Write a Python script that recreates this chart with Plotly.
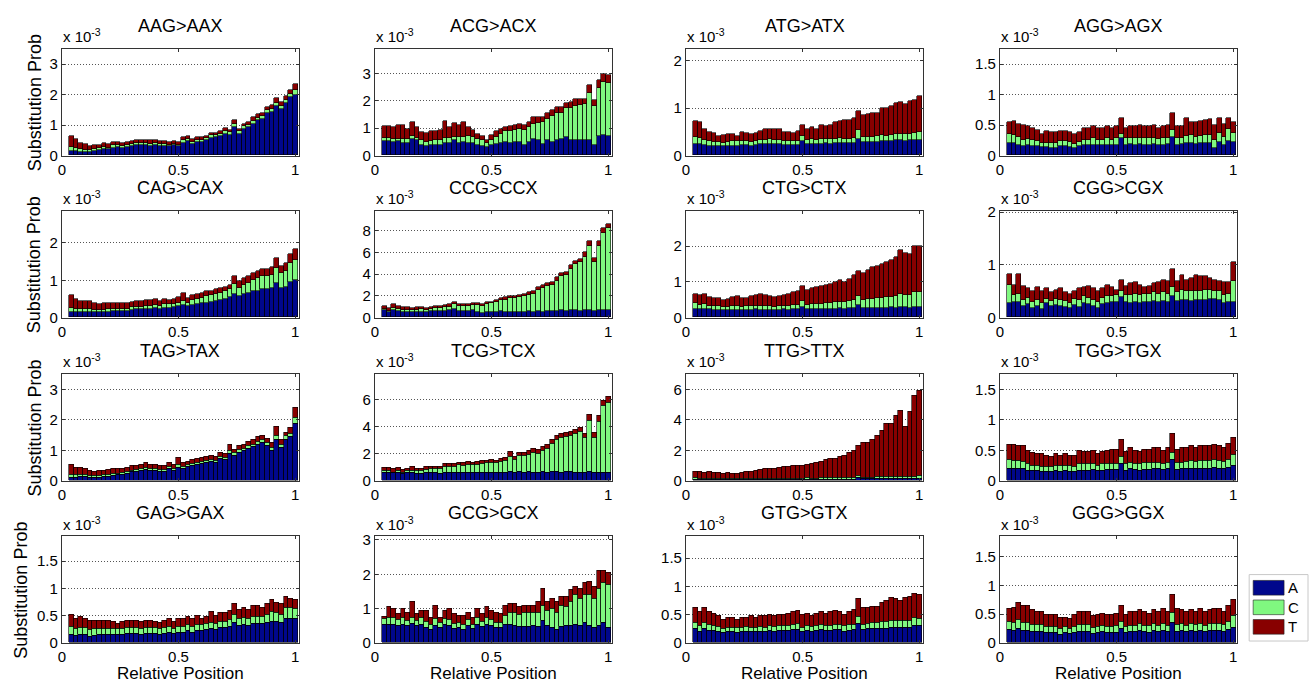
import plotly.graph_objects as go

# Relative positions of the 49 bins along the read (bin centres)
POS = [round(0.04 + 0.02 * i, 2) for i in range(49)]

# Substitution probabilities (x 10^-3), split by the substituted base X = A / C / T
AAG_A = [0.15,0.14,0.13,0.12,0.11,0.15,0.17,0.22,0.20,0.26, 0.27,0.26,0.28,0.30,0.33,0.34,0.33,0.32,0.34,0.32,
         0.32,0.30,0.33,0.30,0.42,0.46,0.38,0.44,0.45,0.50, 0.58,0.60,0.64,0.72,0.68,0.95,0.72,0.88,0.92,1.05,
         1.15,1.20,1.40,1.42,1.62,1.52,1.72,1.92,2.00]
AAG_C = [0.12,0.10,0.08,0.07,0.06,0.06,0.06,0.07,0.06,0.07, 0.07,0.06,0.06,0.07,0.07,0.07,0.07,0.07,0.07,0.06,
         0.07,0.06,0.06,0.06,0.08,0.08,0.07,0.07,0.07,0.07, 0.08,0.07,0.07,0.08,0.08,0.09,0.07,0.08,0.08,0.09,
         0.09,0.09,0.10,0.10,0.12,0.10,0.10,0.10,0.16]
AAG_T = [0.38,0.30,0.21,0.19,0.15,0.14,0.12,0.13,0.12,0.12, 0.11,0.10,0.11,0.11,0.12,0.11,0.10,0.11,0.11,0.10,
         0.08,0.09,0.09,0.09,0.10,0.11,0.10,0.09,0.08,0.08, 0.09,0.08,0.09,0.10,0.09,0.11,0.09,0.09,0.10,0.11,
         0.11,0.11,0.10,0.13,0.16,0.13,0.13,0.13,0.19]

ACG_A = [0.52,0.52,0.50,0.52,0.45,0.45,0.62,0.55,0.38,0.36, 0.38,0.40,0.40,0.45,0.45,0.55,0.45,0.48,0.45,0.45,
         0.40,0.35,0.32,0.38,0.42,0.45,0.50,0.45,0.48,0.48, 0.40,0.48,0.60,0.55,0.42,0.55,0.48,0.55,0.62,0.68,
         0.55,0.58,0.55,0.58,0.55,0.38,0.72,0.75,0.72]
ACG_C = [0.12,0.12,0.12,0.10,0.15,0.15,0.08,0.10,0.18,0.15, 0.15,0.15,0.18,0.20,0.18,0.12,0.22,0.20,0.25,0.22,
         0.22,0.20,0.15,0.20,0.25,0.35,0.40,0.45,0.45,0.48, 0.55,0.55,0.55,0.65,0.80,0.80,0.95,1.00,0.95,1.05,
         1.20,1.25,1.30,1.30,1.75,1.45,1.75,1.95,1.92]
ACG_T = [0.44,0.44,0.43,0.48,0.50,0.38,0.52,0.40,0.29,0.31, 0.37,0.33,0.37,0.60,0.42,0.53,0.45,0.54,0.35,0.25,
         0.16,0.17,0.10,0.17,0.23,0.18,0.15,0.18,0.20,0.18, 0.15,0.20,0.25,0.20,0.18,0.22,0.25,0.22,0.20,0.18,
         0.20,0.25,0.22,0.18,0.28,0.22,0.28,0.30,0.30]

ATG_A = [0.25,0.25,0.22,0.20,0.20,0.20,0.19,0.20,0.21,0.20, 0.22,0.22,0.20,0.22,0.24,0.24,0.25,0.24,0.24,0.23,
         0.22,0.22,0.23,0.30,0.24,0.25,0.24,0.25,0.26,0.25, 0.26,0.27,0.26,0.26,0.27,0.35,0.28,0.28,0.29,0.28,
         0.30,0.30,0.30,0.32,0.32,0.30,0.32,0.32,0.33]
ATG_C = [0.15,0.12,0.10,0.10,0.09,0.08,0.08,0.08,0.09,0.10, 0.09,0.08,0.09,0.09,0.09,0.08,0.09,0.08,0.08,0.08,
         0.08,0.08,0.08,0.12,0.09,0.09,0.09,0.10,0.09,0.09, 0.09,0.10,0.09,0.09,0.10,0.18,0.11,0.12,0.11,0.13,
         0.14,0.12,0.14,0.14,0.14,0.15,0.13,0.15,0.17]
ATG_T = [0.32,0.33,0.25,0.20,0.19,0.14,0.17,0.17,0.15,0.12, 0.19,0.18,0.16,0.17,0.19,0.23,0.21,0.23,0.23,0.19,
         0.20,0.18,0.21,0.23,0.22,0.26,0.22,0.30,0.27,0.31, 0.35,0.35,0.40,0.40,0.43,0.42,0.46,0.48,0.50,0.49,
         0.56,0.58,0.61,0.64,0.66,0.63,0.70,0.70,0.75]

AGG_A = [0.20,0.20,0.18,0.16,0.17,0.15,0.15,0.14,0.14,0.13, 0.13,0.15,0.15,0.14,0.12,0.15,0.17,0.17,0.18,0.17,
         0.17,0.18,0.17,0.18,0.28,0.18,0.19,0.18,0.19,0.18, 0.18,0.19,0.17,0.18,0.19,0.30,0.18,0.19,0.20,0.21,
         0.19,0.20,0.20,0.21,0.13,0.22,0.18,0.23,0.22]
AGG_C = [0.15,0.13,0.12,0.10,0.10,0.10,0.08,0.07,0.07,0.08, 0.08,0.08,0.08,0.08,0.07,0.07,0.09,0.09,0.10,0.09,
         0.09,0.10,0.09,0.10,0.08,0.10,0.10,0.10,0.10,0.10, 0.10,0.10,0.10,0.10,0.10,0.12,0.10,0.10,0.12,0.12,
         0.12,0.12,0.13,0.12,0.12,0.15,0.12,0.20,0.15]
AGG_T = [0.20,0.24,0.22,0.24,0.21,0.20,0.19,0.14,0.19,0.17, 0.17,0.17,0.17,0.16,0.16,0.16,0.19,0.19,0.20,0.19,
         0.19,0.20,0.19,0.20,0.26,0.17,0.19,0.20,0.21,0.20, 0.20,0.21,0.18,0.20,0.21,0.28,0.20,0.19,0.30,0.22,
         0.24,0.25,0.25,0.27,0.25,0.25,0.22,0.19,0.18]

CAG_A = [0.15,0.15,0.15,0.15,0.15,0.14,0.14,0.15,0.16,0.17, 0.17,0.17,0.17,0.20,0.22,0.22,0.24,0.24,0.25,0.23,
         0.26,0.26,0.27,0.30,0.33,0.30,0.34,0.36,0.38,0.40, 0.42,0.45,0.47,0.50,0.55,0.62,0.58,0.62,0.65,0.70,
         0.72,0.75,0.75,0.78,0.92,0.80,0.82,0.95,1.00]
CAG_C = [0.10,0.08,0.07,0.07,0.07,0.06,0.06,0.06,0.06,0.07, 0.07,0.07,0.06,0.07,0.07,0.07,0.08,0.08,0.09,0.08,
         0.09,0.09,0.09,0.10,0.12,0.10,0.12,0.14,0.15,0.17, 0.17,0.18,0.18,0.20,0.20,0.28,0.22,0.25,0.27,0.30,
         0.33,0.35,0.35,0.37,0.40,0.38,0.42,0.50,0.55]
CAG_T = [0.35,0.27,0.23,0.23,0.23,0.18,0.16,0.17,0.16,0.16, 0.16,0.16,0.15,0.15,0.16,0.16,0.16,0.16,0.16,0.14,
         0.15,0.13,0.14,0.15,0.20,0.12,0.14,0.12,0.12,0.13, 0.13,0.12,0.13,0.12,0.13,0.20,0.18,0.18,0.18,0.20,
         0.20,0.20,0.20,0.20,0.28,0.20,0.21,0.25,0.27]

CCG_A = [0.65,0.55,0.70,0.60,0.55,0.55,0.50,0.50,0.55,0.50, 0.60,0.60,0.60,0.60,0.65,0.75,0.60,0.60,0.60,0.65,
         0.55,0.45,0.55,0.55,0.55,0.60,0.55,0.55,0.55,0.55, 0.55,0.60,0.50,0.60,0.55,0.60,0.60,0.60,0.65,0.60,
         0.70,0.65,0.60,0.70,0.65,0.60,0.65,0.65,0.70]
CCG_C = [0.10,0.05,0.20,0.20,0.15,0.15,0.15,0.20,0.25,0.15, 0.20,0.30,0.30,0.35,0.35,0.50,0.45,0.45,0.50,0.50,
         0.60,0.60,0.70,0.75,0.90,1.00,1.10,1.20,1.25,1.35, 1.40,1.50,1.65,1.90,2.15,2.30,2.40,2.80,3.15,3.30,
         3.75,4.25,4.50,4.90,5.90,4.50,5.90,7.15,7.50]
CCG_T = [0.30,0.25,0.30,0.25,0.25,0.25,0.25,0.25,0.20,0.20, 0.20,0.20,0.20,0.20,0.20,0.20,0.15,0.20,0.15,0.20,
         0.20,0.15,0.15,0.15,0.20,0.20,0.20,0.20,0.20,0.20, 0.25,0.20,0.25,0.30,0.30,0.30,0.30,0.30,0.30,0.30,
         0.35,0.30,0.30,0.40,0.45,0.40,0.45,0.40,0.40]

CTG_A = [0.25,0.24,0.25,0.23,0.22,0.22,0.21,0.21,0.22,0.22, 0.21,0.22,0.22,0.23,0.22,0.22,0.22,0.21,0.22,0.23,
         0.22,0.23,0.23,0.30,0.23,0.24,0.24,0.24,0.25,0.24, 0.25,0.26,0.25,0.26,0.26,0.35,0.26,0.27,0.27,0.26,
         0.27,0.27,0.28,0.27,0.28,0.28,0.27,0.28,0.28]
CTG_C = [0.15,0.12,0.12,0.10,0.10,0.10,0.08,0.09,0.10,0.10, 0.09,0.09,0.10,0.10,0.10,0.10,0.09,0.09,0.10,0.10,
         0.10,0.11,0.12,0.15,0.13,0.14,0.14,0.15,0.16,0.16, 0.17,0.18,0.18,0.19,0.22,0.25,0.24,0.25,0.26,0.28,
         0.28,0.30,0.30,0.32,0.38,0.35,0.36,0.42,0.42]
CTG_T = [0.27,0.26,0.28,0.24,0.23,0.23,0.21,0.22,0.25,0.28, 0.25,0.24,0.28,0.29,0.33,0.30,0.29,0.28,0.28,0.29,
         0.33,0.36,0.40,0.43,0.42,0.44,0.47,0.49,0.51,0.55, 0.58,0.61,0.55,0.63,0.72,0.70,0.75,0.80,0.87,0.91,
         0.95,0.98,1.04,1.09,1.24,1.17,1.15,1.30,1.30]

CGG_A = [0.27,0.30,0.30,0.22,0.25,0.18,0.22,0.17,0.27,0.22, 0.24,0.22,0.20,0.18,0.23,0.20,0.28,0.25,0.22,0.18,
         0.25,0.28,0.30,0.30,0.38,0.30,0.28,0.30,0.28,0.30, 0.30,0.32,0.30,0.32,0.30,0.40,0.32,0.34,0.33,0.32,
         0.33,0.33,0.34,0.36,0.35,0.33,0.28,0.30,0.30]
CGG_C = [0.35,0.12,0.15,0.12,0.12,0.12,0.12,0.10,0.08,0.10, 0.12,0.12,0.12,0.10,0.12,0.14,0.12,0.12,0.12,0.12,
         0.12,0.12,0.10,0.12,0.12,0.13,0.15,0.15,0.15,0.14, 0.15,0.16,0.15,0.16,0.15,0.18,0.16,0.18,0.18,0.18,
         0.18,0.18,0.18,0.17,0.16,0.17,0.15,0.15,0.40]
CGG_T = [0.20,0.20,0.37,0.26,0.18,0.20,0.24,0.23,0.20,0.16, 0.16,0.21,0.16,0.17,0.15,0.21,0.18,0.23,0.21,0.20,
         0.18,0.22,0.18,0.10,0.22,0.17,0.22,0.23,0.19,0.14, 0.15,0.17,0.23,0.24,0.25,0.34,0.22,0.28,0.21,0.25,
         0.29,0.27,0.26,0.22,0.21,0.20,0.25,0.23,0.35]

TAG_A = [0.12,0.12,0.14,0.14,0.12,0.11,0.13,0.14,0.16,0.18, 0.20,0.22,0.25,0.30,0.32,0.35,0.38,0.35,0.35,0.32,
         0.32,0.40,0.35,0.45,0.42,0.48,0.52,0.55,0.58,0.60, 0.65,0.60,0.75,0.70,0.90,0.85,0.95,1.00,1.08,1.12,
         1.20,1.25,1.15,1.00,1.35,1.10,1.38,1.45,1.90]
TAG_C = [0.10,0.08,0.08,0.07,0.06,0.06,0.06,0.06,0.06,0.06, 0.06,0.06,0.06,0.06,0.06,0.06,0.07,0.06,0.06,0.06,
         0.06,0.07,0.06,0.08,0.06,0.06,0.07,0.07,0.07,0.07, 0.07,0.07,0.07,0.07,0.10,0.08,0.08,0.08,0.08,0.09,
         0.10,0.10,0.10,0.10,0.15,0.10,0.10,0.12,0.20]
TAG_T = [0.33,0.25,0.23,0.21,0.17,0.15,0.16,0.15,0.16,0.16, 0.16,0.14,0.14,0.14,0.14,0.14,0.15,0.14,0.14,0.12,
         0.12,0.13,0.14,0.25,0.12,0.11,0.11,0.13,0.13,0.13, 0.13,0.13,0.13,0.13,0.20,0.12,0.12,0.12,0.14,0.14,
         0.15,0.15,0.15,0.15,0.30,0.15,0.12,0.18,0.30]

TCG_A = [0.60,0.65,0.60,0.65,0.55,0.60,0.60,0.55,0.55,0.60, 0.60,0.60,0.55,0.60,0.60,0.60,0.65,0.60,0.65,0.60,
         0.60,0.60,0.65,0.60,0.60,0.65,0.65,0.70,0.65,0.70, 0.65,0.70,0.65,0.60,0.70,0.65,0.70,0.70,0.65,0.70,
         0.70,0.65,0.65,0.60,0.70,0.60,0.65,0.65,0.65]
TCG_C = [0.15,0.10,0.05,0.10,0.05,0.15,0.20,0.20,0.20,0.25, 0.30,0.30,0.35,0.50,0.50,0.50,0.55,0.55,0.60,0.60,
         0.65,0.70,0.70,0.80,0.75,0.80,0.90,1.15,0.95,1.20, 1.25,1.30,1.45,1.45,1.55,1.75,2.10,2.35,2.55,2.60,
         2.70,2.85,3.00,2.60,3.80,2.65,3.80,4.95,5.20]
TCG_T = [0.25,0.25,0.25,0.25,0.25,0.20,0.25,0.20,0.20,0.20, 0.20,0.20,0.20,0.20,0.20,0.20,0.20,0.20,0.20,0.20,
         0.20,0.20,0.20,0.20,0.20,0.20,0.20,0.35,0.20,0.25, 0.25,0.25,0.30,0.25,0.30,0.30,0.30,0.35,0.30,0.30,
         0.30,0.30,0.35,0.30,0.40,0.35,0.40,0.40,0.40]

TTG_A = [0.10,0.08,0.08,0.08,0.08,0.08,0.08,0.08,0.08,0.08, 0.08,0.09,0.09,0.09,0.10,0.10,0.10,0.10,0.10,0.10,
         0.10,0.10,0.10,0.10,0.12,0.11,0.11,0.12,0.12,0.12, 0.12,0.13,0.13,0.13,0.13,0.20,0.14,0.14,0.15,0.15,
         0.15,0.16,0.16,0.16,0.16,0.16,0.17,0.17,0.17]
TTG_C = [0.12,0.10,0.10,0.09,0.09,0.09,0.08,0.08,0.08,0.08, 0.08,0.08,0.08,0.08,0.08,0.08,0.08,0.08,0.08,0.08,
         0.08,0.08,0.08,0.08,0.10,0.08,0.08,0.09,0.09,0.09, 0.09,0.09,0.10,0.10,0.10,0.16,0.10,0.11,0.11,0.12,
         0.12,0.12,0.13,0.13,0.14,0.14,0.15,0.15,0.16]
TTG_T = [0.43,0.42,0.37,0.45,0.41,0.38,0.36,0.39,0.34,0.36, 0.39,0.43,0.48,0.51,0.57,0.64,0.67,0.67,0.72,0.74,
         0.77,0.82,0.82,0.87,0.88,0.96,1.01,1.09,1.19,1.24, 1.29,1.38,1.47,1.62,1.77,1.94,2.26,2.25,2.44,2.73,
         3.03,3.52,3.51,4.01,4.35,3.30,4.23,5.33,5.60]

TGG_A = [0.20,0.20,0.20,0.20,0.18,0.17,0.17,0.16,0.16,0.15, 0.17,0.16,0.17,0.16,0.16,0.18,0.18,0.18,0.19,0.17,
         0.18,0.19,0.19,0.19,0.28,0.18,0.20,0.19,0.18,0.19, 0.19,0.20,0.20,0.19,0.20,0.35,0.19,0.20,0.20,0.21,
         0.20,0.21,0.21,0.21,0.22,0.21,0.20,0.22,0.25]
TGG_C = [0.15,0.14,0.13,0.12,0.10,0.09,0.09,0.08,0.08,0.08, 0.09,0.09,0.09,0.09,0.08,0.10,0.10,0.10,0.10,0.09,
         0.10,0.10,0.10,0.10,0.12,0.10,0.11,0.10,0.10,0.11, 0.11,0.11,0.11,0.10,0.11,0.12,0.11,0.11,0.12,0.12,
         0.12,0.12,0.12,0.12,0.13,0.12,0.12,0.14,0.19]
TGG_T = [0.25,0.26,0.25,0.26,0.22,0.20,0.19,0.21,0.18,0.17, 0.19,0.17,0.19,0.17,0.18,0.22,0.20,0.20,0.21,0.19,
         0.20,0.21,0.23,0.23,0.28,0.20,0.24,0.21,0.20,0.22, 0.22,0.24,0.24,0.21,0.24,0.31,0.22,0.24,0.23,0.25,
         0.23,0.25,0.25,0.25,0.25,0.25,0.23,0.26,0.28]

GAG_A = [0.15,0.14,0.15,0.15,0.12,0.14,0.15,0.15,0.16,0.16, 0.16,0.16,0.17,0.18,0.17,0.15,0.18,0.18,0.17,0.16,
         0.18,0.19,0.17,0.20,0.20,0.22,0.20,0.22,0.23,0.24, 0.26,0.25,0.28,0.28,0.30,0.38,0.32,0.33,0.32,0.35,
         0.35,0.35,0.38,0.40,0.40,0.38,0.45,0.45,0.44]
GAG_C = [0.15,0.13,0.13,0.13,0.13,0.12,0.12,0.12,0.11,0.11, 0.10,0.11,0.11,0.11,0.11,0.11,0.11,0.11,0.11,0.10,
         0.11,0.11,0.10,0.11,0.11,0.11,0.10,0.11,0.11,0.11, 0.12,0.11,0.12,0.12,0.13,0.14,0.13,0.14,0.13,0.14,
         0.14,0.14,0.15,0.18,0.16,0.15,0.20,0.20,0.20]
GAG_T = [0.22,0.18,0.20,0.17,0.17,0.16,0.15,0.15,0.15,0.13, 0.09,0.13,0.14,0.13,0.14,0.14,0.13,0.13,0.12,0.12,
         0.13,0.15,0.13,0.14,0.14,0.15,0.15,0.17,0.11,0.13, 0.20,0.14,0.15,0.15,0.17,0.20,0.17,0.18,0.17,0.19,
         0.19,0.16,0.19,0.22,0.19,0.19,0.20,0.17,0.16]

GCG_A = [0.55,0.55,0.55,0.52,0.55,0.50,0.58,0.50,0.55,0.45, 0.40,0.52,0.45,0.55,0.50,0.42,0.45,0.40,0.50,0.42,
         0.55,0.48,0.55,0.50,0.45,0.45,0.55,0.55,0.50,0.48, 0.48,0.48,0.50,0.48,0.65,0.50,0.45,0.38,0.48,0.50,
         0.52,0.55,0.50,0.60,0.50,0.45,0.50,0.60,0.45]
GCG_C = [0.15,0.20,0.18,0.15,0.18,0.15,0.15,0.15,0.18,0.18, 0.15,0.20,0.15,0.15,0.18,0.15,0.15,0.15,0.18,0.12,
         0.18,0.15,0.20,0.18,0.15,0.15,0.25,0.35,0.40,0.35, 0.40,0.40,0.40,0.42,0.45,0.45,0.55,0.50,0.60,0.55,
         0.70,0.85,0.80,0.80,0.90,0.85,1.10,1.15,1.25]
GCG_T = [0.08,0.30,0.27,0.18,0.27,0.25,0.47,0.20,0.22,0.32, 0.20,0.38,0.15,0.25,0.32,0.28,0.20,0.25,0.22,0.21,
         0.27,0.22,0.30,0.27,0.30,0.25,0.30,0.25,0.25,0.22, 0.22,0.22,0.20,0.30,0.50,0.25,0.30,0.32,0.27,0.30,
         0.33,0.25,0.30,0.35,0.40,0.35,0.50,0.35,0.35]

GTG_A = [0.25,0.20,0.25,0.22,0.22,0.20,0.18,0.20,0.20,0.19, 0.20,0.21,0.20,0.20,0.21,0.20,0.22,0.21,0.22,0.22,
         0.22,0.23,0.24,0.20,0.22,0.21,0.22,0.23,0.22,0.22, 0.23,0.23,0.21,0.22,0.23,0.35,0.23,0.25,0.26,0.25,
         0.26,0.26,0.27,0.27,0.27,0.28,0.28,0.30,0.30]
GTG_C = [0.12,0.10,0.12,0.10,0.09,0.09,0.08,0.08,0.08,0.08, 0.08,0.08,0.08,0.08,0.08,0.08,0.09,0.08,0.09,0.09,
         0.09,0.09,0.10,0.08,0.09,0.08,0.09,0.09,0.09,0.09, 0.10,0.10,0.09,0.10,0.10,0.12,0.10,0.10,0.11,0.11,
         0.12,0.12,0.12,0.12,0.12,0.12,0.12,0.15,0.13]
GTG_T = [0.25,0.25,0.25,0.23,0.21,0.19,0.16,0.17,0.17,0.15, 0.17,0.16,0.20,0.17,0.19,0.20,0.19,0.19,0.19,0.19,
         0.21,0.23,0.24,0.22,0.21,0.19,0.21,0.23,0.21,0.24, 0.25,0.22,0.20,0.23,0.27,0.31,0.29,0.27,0.28,0.29,
         0.34,0.37,0.41,0.39,0.36,0.40,0.42,0.43,0.42]

GGG_A = [0.23,0.22,0.25,0.22,0.22,0.20,0.20,0.20,0.18,0.18, 0.18,0.15,0.18,0.16,0.18,0.20,0.20,0.20,0.17,0.18,
         0.20,0.18,0.19,0.19,0.25,0.18,0.20,0.20,0.21,0.20, 0.19,0.21,0.20,0.21,0.20,0.35,0.20,0.21,0.20,0.21,
         0.20,0.22,0.20,0.21,0.22,0.22,0.20,0.24,0.27]
GGG_C = [0.14,0.13,0.16,0.13,0.14,0.12,0.12,0.12,0.11,0.11, 0.11,0.10,0.10,0.09,0.11,0.12,0.12,0.12,0.10,0.11,
         0.11,0.11,0.10,0.11,0.13,0.10,0.11,0.11,0.12,0.11, 0.11,0.12,0.11,0.12,0.11,0.18,0.12,0.12,0.11,0.12,
         0.12,0.12,0.11,0.12,0.12,0.12,0.12,0.14,0.20]
GGG_T = [0.23,0.27,0.29,0.30,0.29,0.26,0.23,0.23,0.21,0.21, 0.21,0.20,0.17,0.17,0.21,0.23,0.23,0.23,0.21,0.21,
         0.21,0.21,0.21,0.22,0.27,0.22,0.24,0.24,0.25,0.24, 0.22,0.25,0.24,0.27,0.24,0.32,0.28,0.25,0.24,0.25,
         0.23,0.26,0.24,0.25,0.26,0.26,0.23,0.27,0.28]

PANELS = [
    ("AAG>AAX", AAG_A, AAG_C, AAG_T), ("ACG>ACX", ACG_A, ACG_C, ACG_T),
    ("ATG>ATX", ATG_A, ATG_C, ATG_T), ("AGG>AGX", AGG_A, AGG_C, AGG_T),
    ("CAG>CAX", CAG_A, CAG_C, CAG_T), ("CCG>CCX", CCG_A, CCG_C, CCG_T),
    ("CTG>CTX", CTG_A, CTG_C, CTG_T), ("CGG>CGX", CGG_A, CGG_C, CGG_T),
    ("TAG>TAX", TAG_A, TAG_C, TAG_T), ("TCG>TCX", TCG_A, TCG_C, TCG_T),
    ("TTG>TTX", TTG_A, TTG_C, TTG_T), ("TGG>TGX", TGG_A, TGG_C, TGG_T),
    ("GAG>GAX", GAG_A, GAG_C, GAG_T), ("GCG>GCX", GCG_A, GCG_C, GCG_T),
    ("GTG>GTX", GTG_A, GTG_C, GTG_T), ("GGG>GGX", GGG_A, GGG_C, GGG_T),
]

# y-axis upper limits and tick values of each panel
Y_MAX = [3.5, 3.9, 2.25, 1.75,
         2.85, 9.8, 2.98, 2.02,
         3.5, 7.9, 7.0, 1.75,
         1.95, 3.1, 1.88, 1.85]
Y_TICKS = [[0, 1, 2, 3], [0, 1, 2, 3], [0, 1, 2], [0, 0.5, 1, 1.5],
           [0, 1, 2], [0, 2, 4, 6, 8], [0, 1, 2], [0, 1, 2],
           [0, 1, 2, 3], [0, 2, 4, 6], [0, 2, 4, 6], [0, 0.5, 1, 1.5],
           [0, 0.5, 1, 1.5], [0, 1, 2, 3], [0, 0.5, 1, 1.5], [0, 0.5, 1, 1.5]]

for _, a, c, t in PANELS:
    assert len(a) == len(c) == len(t) == len(POS)

BASES = ["A", "C", "T"]
COLORS = {"A": "#00078c", "C": "#80f880", "T": "#880000"}

# layout geometry in pixels
W, H = 1309, 692
COL_LEFT = [58, 372, 684, 999]
ROW_TOP = [42, 208, 375, 541]
YLABEL_X = [31, 31, 31, 17]   # the bottom row's label sits left of its wider tick labels
AX_W, AX_H = 238, 109
FONT = "Liberation Sans, Arial, sans-serif"

fig = go.Figure()
annotations = []

for k, (title, a_vals, c_vals, t_vals) in enumerate(PANELS):
    r, c = divmod(k, 4)
    suffix = "" if k == 0 else str(k + 1)
    for base, vals in zip(BASES, (a_vals, c_vals, t_vals)):
        fig.add_trace(go.Bar(
            x=POS, y=vals, width=0.02, name=base,
            marker=dict(color=COLORS[base], line=dict(color="black", width=0.6)),
            xaxis="x" + suffix, yaxis="y" + suffix, showlegend=False,
        ))
    x0 = COL_LEFT[c]
    top = ROW_TOP[r]
    bot = top + AX_H
    fig.layout["xaxis" + suffix] = dict(
        domain=[x0 / W, (x0 + AX_W) / W], range=[0, 1.017], anchor="y" + suffix,
        tickvals=[0, 0.5, 1], ticktext=["0", "0.5", "1"],
        showline=True, mirror="ticks", linecolor="#333", linewidth=1,
        ticks="inside", ticklen=3, tickcolor="#333",
        showgrid=False, zeroline=False,
        tickfont=dict(size=15, color="black", family=FONT),
    )
    fig.layout["yaxis" + suffix] = dict(
        domain=[1 - bot / H, 1 - top / H], range=[0, Y_MAX[k]], anchor="x" + suffix,
        tickvals=Y_TICKS[k],
        showline=True, mirror="ticks", linecolor="#333", linewidth=1,
        ticks="inside", ticklen=3, tickcolor="#333",
        showgrid=True, gridcolor="#555", griddash="1px,2px", gridwidth=1,
        zeroline=False,
        tickfont=dict(size=15, color="black", family=FONT),
    )
    # panel title
    annotations.append(dict(
        text=title, x=(x0 + AX_W / 2) / W, y=1 - (top - 24) / H,
        xref="paper", yref="paper", showarrow=False,
        xanchor="center", yanchor="middle",
        font=dict(size=18, color="black", family=FONT),
    ))
    # exponent label of the y axis
    annotations.append(dict(
        text="x 10<sup>-3</sup>", x=(x0 - 1) / W, y=1 - (top - 2) / H,
        xref="paper", yref="paper", showarrow=False,
        xanchor="left", yanchor="bottom",
        font=dict(size=15, color="black", family=FONT),
    ))

# shared axis titles
for r in range(4):
    annotations.append(dict(
        text="Substitution Prob", x=YLABEL_X[r] / W, y=1 - (ROW_TOP[r] + AX_H / 2) / H,
        xref="paper", yref="paper", showarrow=False, textangle=-90,
        xanchor="center", yanchor="middle",
        font=dict(size=18, color="black", family=FONT),
    ))
for c in range(4):
    annotations.append(dict(
        text="Relative Position", x=(COL_LEFT[c] + AX_W / 2) / W, y=1 - 681 / H,
        xref="paper", yref="paper", showarrow=False,
        xanchor="center", yanchor="middle",
        font=dict(size=17, color="black", family=FONT),
    ))

# legend box with colour swatches
shapes = [dict(type="rect", xref="paper", yref="paper",
               x0=1249 / W, x1=1308 / W, y0=1 - 648 / H, y1=1 - 580 / H,
               line=dict(color="#c8c8c8", width=1), fillcolor="white")]
for i, base in enumerate(BASES):
    ytop = 586 + 20 * i
    shapes.append(dict(type="rect", xref="paper", yref="paper",
                       x0=1253 / W, x1=1284 / W, y0=1 - (ytop + 15) / H, y1=1 - ytop / H,
                       line=dict(color="#222", width=0.6), fillcolor=COLORS[base]))
    annotations.append(dict(
        text=base, x=1286 / W, y=1 - (ytop + 7.5) / H,
        xref="paper", yref="paper", showarrow=False,
        xanchor="left", yanchor="middle",
        font=dict(size=15, color="black", family=FONT),
    ))

fig.update_layout(
    width=W, height=H,
    margin=dict(l=0, r=0, t=0, b=0),
    barmode="stack", bargap=0,
    plot_bgcolor="white", paper_bgcolor="white",
    font=dict(family=FONT, color="black"),
    annotations=annotations, shapes=shapes,
    showlegend=False,
)

fig.write_html("out.html")
